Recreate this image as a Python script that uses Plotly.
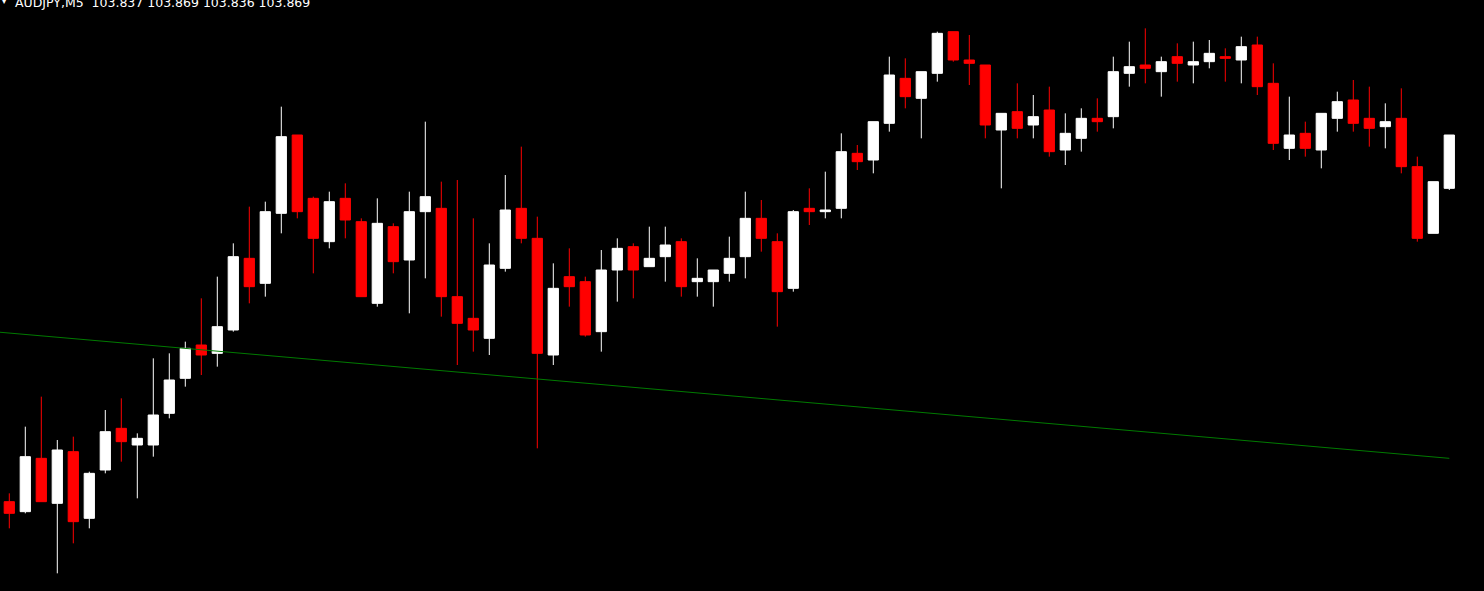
import plotly.graph_objects as go

# ---- Data (AUDJPY, M5) ----
bar_index = list(range(91))

open_px = [103.649, 103.643, 103.675, 103.648, 103.679, 103.639, 103.668, 103.693, 103.683, 103.683,
           103.702, 103.723, 103.743, 103.738, 103.752, 103.795, 103.780, 103.822, 103.869, 103.831,
           103.805, 103.831, 103.817, 103.768, 103.814, 103.794, 103.823, 103.825, 103.772, 103.759,
           103.747, 103.789, 103.825, 103.807, 103.737, 103.784, 103.781, 103.751, 103.788, 103.802,
           103.790, 103.796, 103.805, 103.781, 103.781, 103.786, 103.796, 103.819, 103.805, 103.777,
           103.825, 103.823, 103.825, 103.858, 103.854, 103.876, 103.903, 103.891, 103.906, 103.931,
           103.914, 103.911, 103.872, 103.883, 103.875, 103.884, 103.860, 103.867, 103.879, 103.880,
           103.906, 103.911, 103.907, 103.916, 103.911, 103.913, 103.916, 103.914, 103.923, 103.900,
           103.861, 103.870, 103.860, 103.879, 103.890, 103.879, 103.874, 103.879, 103.850, 103.810,
           103.837]

high_px = [103.654, 103.694, 103.712, 103.686, 103.688, 103.667, 103.704, 103.711, 103.690, 103.735,
           103.738, 103.745, 103.771, 103.784, 103.804, 103.826, 103.829, 103.886, 103.869, 103.832,
           103.835, 103.840, 103.819, 103.831, 103.816, 103.835, 103.877, 103.841, 103.842, 103.819,
           103.804, 103.845, 103.862, 103.820, 103.792, 103.801, 103.784, 103.800, 103.807, 103.804,
           103.814, 103.814, 103.807, 103.795, 103.788, 103.808, 103.835, 103.830, 103.810, 103.824,
           103.837, 103.847, 103.870, 103.863, 103.877, 103.916, 103.915, 103.907, 103.931, 103.931,
           103.929, 103.911, 103.882, 103.900, 103.893, 103.898, 103.882, 103.885, 103.891, 103.916,
           103.925, 103.933, 103.916, 103.924, 103.925, 103.926, 103.921, 103.928, 103.928, 103.912,
           103.892, 103.877, 103.882, 103.895, 103.902, 103.898, 103.888, 103.897, 103.856, 103.841,
           103.869]

low_px = [103.633, 103.642, 103.649, 103.606, 103.624, 103.633, 103.666, 103.673, 103.651, 103.676,
          103.699, 103.718, 103.725, 103.730, 103.751, 103.768, 103.772, 103.810, 103.819, 103.786,
          103.801, 103.807, 103.772, 103.766, 103.786, 103.762, 103.783, 103.760, 103.731, 103.739,
          103.737, 103.787, 103.804, 103.681, 103.731, 103.766, 103.748, 103.739, 103.769, 103.771,
          103.790, 103.781, 103.772, 103.772, 103.766, 103.781, 103.783, 103.799, 103.754, 103.775,
          103.815, 103.819, 103.819, 103.848, 103.846, 103.871, 103.885, 103.867, 103.901, 103.913,
          103.899, 103.867, 103.837, 103.867, 103.867, 103.856, 103.851, 103.859, 103.871, 103.873,
          103.898, 103.900, 103.892, 103.901, 103.900, 103.909, 103.901, 103.900, 103.893, 103.860,
          103.854, 103.856, 103.849, 103.871, 103.871, 103.862, 103.861, 103.846, 103.805, 103.810,
          103.836]

close_px = [103.642, 103.676, 103.649, 103.680, 103.637, 103.666, 103.691, 103.685, 103.687, 103.701,
            103.722, 103.741, 103.737, 103.754, 103.796, 103.778, 103.823, 103.868, 103.823, 103.807,
            103.829, 103.818, 103.772, 103.816, 103.793, 103.823, 103.832, 103.772, 103.756, 103.752,
            103.791, 103.824, 103.807, 103.738, 103.777, 103.778, 103.749, 103.788, 103.801, 103.788,
            103.795, 103.803, 103.778, 103.783, 103.788, 103.795, 103.819, 103.807, 103.775, 103.823,
            103.823, 103.824, 103.859, 103.853, 103.877, 103.905, 103.892, 103.907, 103.930, 103.914,
            103.912, 103.875, 103.882, 103.873, 103.880, 103.859, 103.870, 103.879, 103.877, 103.907,
            103.910, 103.909, 103.913, 103.912, 103.913, 103.918, 103.915, 103.922, 103.898, 103.864,
            103.869, 103.861, 103.882, 103.889, 103.876, 103.873, 103.877, 103.850, 103.807, 103.841,
            103.869]

# Trend line (two anchor points: bar index, price)
trend_x = [-1, 90]
trend_y = [103.751, 103.675]

symbol_label = "AUDJPY,M5"
last_ohlc = [open_px[-1], high_px[-1], low_px[-1], close_px[-1]]

fig = go.Figure()

fig.add_trace(go.Candlestick(
    x=bar_index, open=open_px, high=high_px, low=low_px, close=close_px,
    increasing=dict(line=dict(color="#ffffff", width=1), fillcolor="#ffffff"),
    decreasing=dict(line=dict(color="#ff0000", width=1), fillcolor="#ff0000"),
    whiskerwidth=0, hoverinfo="skip", showlegend=False,
))

fig.add_trace(go.Scatter(
    x=trend_x, y=trend_y, mode="lines",
    line=dict(color="#007a00", width=1), hoverinfo="skip", showlegend=False,
))

title_txt = symbol_label + "\u00a0\u00a0" + " ".join(f"{v:.3f}" for v in last_ohlc)

fig.add_annotation(
    text=title_txt, xref="paper", yref="paper", x=0, y=1,
    xanchor="left", yanchor="top", xshift=13, yshift=7, showarrow=False,
    font=dict(family="DejaVu Sans", size=12.5, color="#ffffff"),
)
fig.add_annotation(
    text="\u25bc", xref="paper", yref="paper", x=0, y=1,
    xanchor="left", yanchor="top", xshift=-1, yshift=6, showarrow=False,
    font=dict(family="DejaVu Sans", size=8, color="#ffffff"),
)

fig.update_layout(
    width=1484, height=591,
    margin=dict(l=0, r=0, t=0, b=0),
    paper_bgcolor="#000000", plot_bgcolor="#000000",
    showlegend=False,
    boxgap=0.36, boxgroupgap=0,
    xaxis=dict(range=[-0.58125, 92.16875], visible=False, rangeslider=dict(visible=False),
               fixedrange=True),
    yaxis=dict(range=[103.5954, 103.950], visible=False, fixedrange=True),
)

fig.write_html(
    "out.html",
    config={"displayModeBar": False},
    post_script="document.body.style.margin='0';document.body.style.background='#000';",
)
